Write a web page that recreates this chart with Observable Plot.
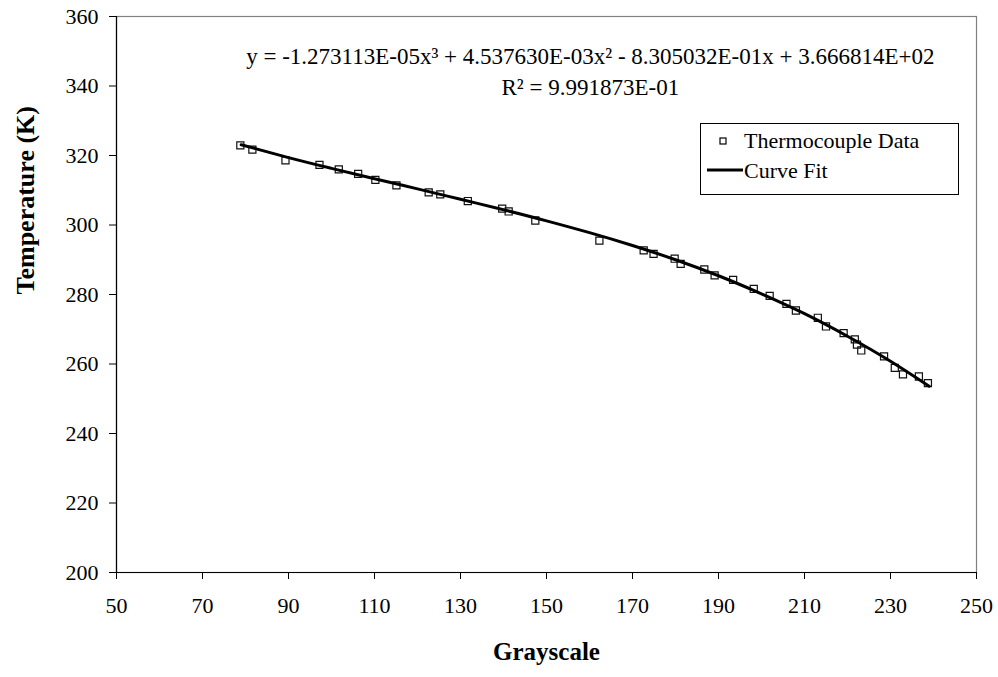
<!DOCTYPE html>
<html>
<head>
<meta charset="utf-8">
<script src="https://cdn.jsdelivr.net/npm/d3@7"></script>
<script src="https://cdn.jsdelivr.net/npm/@observablehq/plot@0.6"></script>
<style>
  html, body { margin: 0; padding: 0; background: #fff; }
  #wrap { position: relative; width: 998px; height: 677px; font-family: "Liberation Serif", "Times New Roman", serif; }
  #legend { position: absolute; left: 0; top: 0; pointer-events: none; }
</style>
</head>
<body>
<div id="wrap">
  <div id="chart"></div>
  <svg id="legend" width="998" height="677" font-family="'Liberation Serif', 'Times New Roman', serif" font-size="22">
    <rect x="700.5" y="123.5" width="258" height="71" fill="#fff" stroke="#000" stroke-width="1"/>
    <rect x="720" y="138" width="6" height="6" fill="none" stroke="#000" stroke-width="1.2"/>
    <text x="744" y="148" fill="#000">Thermocouple Data</text>
    <line x1="707" y1="170" x2="743" y2="170" stroke="#000" stroke-width="3"/>
    <text x="744" y="178" fill="#000">Curve Fit</text>
  </svg>
</div>
<script>
// Thermocouple data (grayscale, temperature K)
const gray = [78.8, 81.6, 89.3, 97.2, 101.7, 106.2, 110.2, 115.1, 122.6, 125.3, 131.7, 139.7, 141.2,
              147.4, 162.3, 172.6, 174.9, 179.8, 181.2, 186.7, 189.1, 193.4, 198.2, 201.9,
              205.8, 208.0, 213.1, 215.0, 219.1, 221.7, 222.2, 223.2, 228.5, 231.0, 232.9, 236.6, 238.7];
const temp = [322.9, 321.7, 318.6, 317.3, 316.0, 314.7, 313.0, 311.4, 309.4, 308.8, 306.9, 304.7, 303.9,
              301.3, 295.5, 292.7, 291.7, 290.3, 288.8, 287.2, 285.5, 284.2, 281.6, 279.6,
              277.3, 275.4, 273.3, 270.8, 268.9, 267.1, 265.6, 263.9, 262.2, 258.9, 257.0, 256.4, 254.5];

// Curve fit points
const fitX = [79, 90, 100, 110, 120, 130, 140, 150, 160, 170, 180, 190, 200, 210, 220, 230, 239];
const fitY = [323.1, 319.4, 316.3, 313.3, 310.4, 307.4, 304.4, 301.2, 297.8, 294.1, 290.0, 285.4, 280.2, 274.5, 268.0, 260.8, 253.6];

const xTicks = [50, 70, 90, 110, 130, 150, 170, 190, 210, 230, 250];
const yTicks = [200, 220, 240, 260, 280, 300, 320, 340, 360];

const eqLines = ["y = -1.273113E-05x³ + 4.537630E-03x² - 8.305032E-01x + 3.666814E+02", "R² = 9.991873E-01"];
const eqPos = [{x: 160.2, y: 348.5}, {x: 160.2, y: 339.6}];
const xTitle = "Grayscale";
const yTitle = "Temperature (K)";

const points = gray.map((g, i) => ({g, t: temp[i]}));
const fit = fitX.map((g, i) => ({g, t: fitY[i]}));
const eq = eqLines.map((s, i) => ({s, x: eqPos[i].x, y: eqPos[i].y}));

const chart = Plot.plot({
  width: 998,
  height: 677,
  marginLeft: 116,
  marginRight: 22,
  marginTop: 16,
  marginBottom: 105,
  style: {fontFamily: "'Liberation Serif', 'Times New Roman', serif", fontSize: "22px", color: "#000", background: "#fff"},
  x: {domain: [50, 250]},
  y: {domain: [200, 360]},
  marks: [
    Plot.frame({stroke: "#808080", strokeWidth: 1.2}),
    Plot.ruleX([50], {stroke: "#000", strokeWidth: 1.2}),
    Plot.ruleY([200], {stroke: "#000", strokeWidth: 1.2}),
    Plot.axisX({ticks: xTicks, tickSize: 7, tickPadding: 18, label: null, fontSize: 22}),
    Plot.axisY({ticks: yTicks, tickSize: 7, tickPadding: 11, label: null, fontSize: 22}),
    Plot.dot(points, {x: "g", y: "t", symbol: "square", r: 4, stroke: "#111", strokeWidth: 1.2, fill: "none"}),
    Plot.line(fit, {x: "g", y: "t", stroke: "#000", strokeWidth: 3, curve: "natural"}),
    Plot.text(eq, {x: "x", y: "y", text: "s", fontSize: 23, fill: "#000"}),
    Plot.text([xTitle], {frameAnchor: "bottom", dy: 87, fontSize: 25, fontWeight: "bold", fill: "#000"}),
    Plot.text([yTitle], {frameAnchor: "left", dx: -91, rotate: -90, fontSize: 26, fontWeight: "bold", fill: "#000"})
  ]
});
document.getElementById("chart").appendChild(chart);
</script>
</body>
</html>
